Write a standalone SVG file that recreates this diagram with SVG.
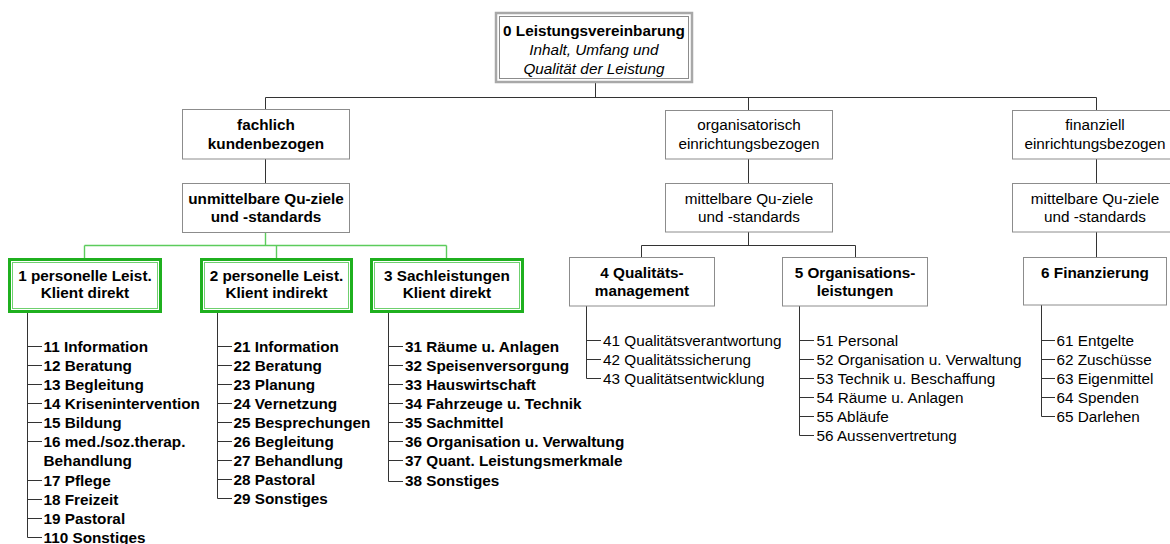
<svg xmlns="http://www.w3.org/2000/svg" width="1170" height="544" viewBox="0 0 1170 544">
<style>
text{font-family:"Liberation Sans",Arial,sans-serif;font-size:15.3px;fill:#000}
.b{font-weight:bold}
.i{font-style:italic}
.c{text-anchor:middle}
.box{fill:#fff;stroke:#8c8c8c;stroke-width:1}
.gout{fill:#fff;stroke:#1fb01f;stroke-width:3}
.gin{fill:none;stroke:#6fd06f;stroke-width:1}
.ln{fill:none;stroke:#333;stroke-width:1}
.gl{fill:none;stroke:#5ccc5c;stroke-width:1.4}
</style>
<g id="connectors">
<path class="ln" d="M595.5 83V97.5M265.5 97.5H1096.5M265.5 97.5V110M748.5 97.5V110M1096.5 97.5V110"/>
<path class="ln" d="M265.5 159V183M748.5 159V183M1096.5 159V183"/>
<path class="ln" d="M748.5 232V245.5M641.5 245.5H855.5M641.5 245.5V257M855.5 245.5V257M1096.5 232V257"/>
<path class="gl" d="M265.5 233V245.5M84.5 245.5H446.5M84.5 245.5V258M276.5 245.5V258M446.5 245.5V258"/>
<path class="ln" d="M27.5 312V537.5H42M27.5 346.5H42M27.5 365.5H42M27.5 384.5H42M27.5 403.5H42M27.5 422.5H42M27.5 441.5H42M27.5 480.5H42M27.5 499.5H42M27.5 518.5H42"/>
<path class="ln" d="M217.5 312V498.5H232M217.5 346.5H232M217.5 365.5H232M217.5 384.5H232M217.5 403.5H232M217.5 422.5H232M217.5 441.5H232M217.5 460.5H232M217.5 479.5H232"/>
<path class="ln" d="M388.5 312V481.5H403M388.5 346.5H403M388.5 365.5H403M388.5 384.5H403M388.5 403.5H403M388.5 422.5H403M388.5 441.5H403M388.5 460.5H403"/>
<path class="ln" d="M586.5 306V378.5H601M586.5 340.5H601M586.5 359.5H601"/>
<path class="ln" d="M799.5 306V435.5H814M799.5 340.5H814M799.5 359.5H814M799.5 378.5H814M799.5 397.5H814M799.5 416.5H814"/>
<path class="ln" d="M1041.5 305V416.5H1055M1041.5 340.5H1055M1041.5 359.5H1055M1041.5 378.5H1055M1041.5 397.5H1055"/>
</g>
<g id="n0">
<rect x="496" y="13" width="196" height="69" fill="#fff" stroke="#a8a8a8" stroke-width="2.5"/>
<rect x="499.5" y="16.5" width="189" height="62" fill="none" stroke="#8c8c8c" stroke-width="1"/>
<text class="b c" x="594" y="36">0 Leistungsvereinbarung</text>
<text class="i c" x="594" y="55">Inhalt, Umfang und</text>
<text class="i c" x="594" y="74">Qualität der Leistung</text>
</g>
<g id="fachlich">
<rect class="box" x="182.5" y="109.5" width="167" height="49.5"/>
<text class="b c" x="266" y="130">fachlich</text>
<text class="b c" x="266" y="148.5">kundenbezogen</text>
</g>
<g id="unmittelbar">
<rect class="box" x="182.5" y="183.5" width="167" height="49"/>
<text class="b c" x="266" y="204">unmittelbare Qu-ziele</text>
<text class="b c" x="266" y="222">und -standards</text>
</g>
<g id="organisatorisch">
<rect class="box" x="665.5" y="110.5" width="167" height="48.5"/>
<text class="c" x="749" y="130">organisatorisch</text>
<text class="c" x="749" y="148.5">einrichtungsbezogen</text>
</g>
<g id="mittelbar1">
<rect class="box" x="665.5" y="183.5" width="167" height="48.5"/>
<text class="c" x="749" y="204">mittelbare Qu-ziele</text>
<text class="c" x="749" y="222">und -standards</text>
</g>
<g id="finanziell">
<rect class="box" x="1012.5" y="110.5" width="167" height="48.5"/>
<text class="c" x="1095" y="130">finanziell</text>
<text class="c" x="1095" y="148.5">einrichtungsbezogen</text>
</g>
<g id="mittelbar2">
<rect class="box" x="1012.5" y="183.5" width="167" height="48.5"/>
<text class="c" x="1095" y="204">mittelbare Qu-ziele</text>
<text class="c" x="1095" y="222">und -standards</text>
</g>
<g id="n1">
<rect class="gout" x="9.5" y="259.5" width="151" height="52"/>
<rect class="gin" x="12.5" y="262.5" width="145" height="46"/>
<text class="b c" x="85" y="280.5">1 personelle Leist.</text>
<text class="b c" x="85" y="298">Klient direkt</text>
</g>
<g id="n2">
<rect class="gout" x="201.5" y="259.5" width="150" height="52"/>
<rect class="gin" x="204.5" y="262.5" width="144" height="46"/>
<text class="b c" x="276.5" y="280.5">2 personelle Leist.</text>
<text class="b c" x="276.5" y="298">Klient indirekt</text>
</g>
<g id="n3">
<rect class="gout" x="371.5" y="259.5" width="151" height="52"/>
<rect class="gin" x="374.5" y="262.5" width="145" height="46"/>
<text class="b c" x="447" y="280.5">3 Sachleistungen</text>
<text class="b c" x="447" y="298">Klient direkt</text>
</g>
<g id="n4">
<rect class="box" x="569.5" y="257.5" width="145" height="48.5"/>
<text class="b c" x="642" y="277.5">4 Qualitäts-</text>
<text class="b c" x="642" y="296">management</text>
</g>
<g id="n5">
<rect class="box" x="782.5" y="257.5" width="145" height="48.5"/>
<text class="b c" x="855" y="277.5">5 Organisations-</text>
<text class="b c" x="855" y="296">leistungen</text>
</g>
<g id="n6">
<rect class="box" x="1023.5" y="257.5" width="143" height="47.5"/>
<text class="b c" x="1095" y="277.5">6 Finanzierung</text>
</g>
<g id="list1">
<text class="b" x="43.5" y="351.5">11 Information</text>
<text class="b" x="43.5" y="370.5">12 Beratung</text>
<text class="b" x="43.5" y="389.5">13 Begleitung</text>
<text class="b" x="43.5" y="408.5">14 Krisenintervention</text>
<text class="b" x="43.5" y="427.5">15 Bildung</text>
<text class="b" x="43.5" y="446.5">16 med./soz.therap.</text>
<text class="b" x="43.5" y="465.5">Behandlung</text>
<text class="b" x="43.5" y="485.5">17 Pflege</text>
<text class="b" x="43.5" y="504.5">18 Freizeit</text>
<text class="b" x="43.5" y="523.5">19 Pastoral</text>
<text class="b" x="43.5" y="542.5">110 Sonstiges</text>
</g>
<g id="list2">
<text class="b" x="233.5" y="351.5">21 Information</text>
<text class="b" x="233.5" y="370.5">22 Beratung</text>
<text class="b" x="233.5" y="389.5">23 Planung</text>
<text class="b" x="233.5" y="408.5">24 Vernetzung</text>
<text class="b" x="233.5" y="427.5">25 Besprechungen</text>
<text class="b" x="233.5" y="446.5">26 Begleitung</text>
<text class="b" x="233.5" y="465.5">27 Behandlung</text>
<text class="b" x="233.5" y="484.5">28 Pastoral</text>
<text class="b" x="233.5" y="503.5">29 Sonstiges</text>
</g>
<g id="list3">
<text class="b" x="405" y="351.5">31 Räume u. Anlagen</text>
<text class="b" x="405" y="370.5">32 Speisenversorgung</text>
<text class="b" x="405" y="389.5">33 Hauswirtschaft</text>
<text class="b" x="405" y="408.5">34 Fahrzeuge u. Technik</text>
<text class="b" x="405" y="427.5">35 Sachmittel</text>
<text class="b" x="405" y="446.5">36 Organisation u. Verwaltung</text>
<text class="b" x="405" y="465.5">37 Quant. Leistungsmerkmale</text>
<text class="b" x="405" y="486">38 Sonstiges</text>
</g>
<g id="list4">
<text x="603" y="346">41 Qualitätsverantwortung</text>
<text x="603" y="364.5">42 Qualitätssicherung</text>
<text x="603" y="383.5">43 Qualitätsentwicklung</text>
</g>
<g id="list5">
<text x="816.5" y="346">51 Personal</text>
<text x="816.5" y="364.5">52 Organisation u. Verwaltung</text>
<text x="816.5" y="383.5">53 Technik u. Beschaffung</text>
<text x="816.5" y="402.5">54 Räume u. Anlagen</text>
<text x="816.5" y="421.5">55 Abläufe</text>
<text x="816.5" y="441">56 Aussenvertretung</text>
</g>
<g id="list6">
<text x="1056.5" y="345.5">61 Entgelte</text>
<text x="1056.5" y="364.5">62 Zuschüsse</text>
<text x="1056.5" y="383.5">63 Eigenmittel</text>
<text x="1056.5" y="402.5">64 Spenden</text>
<text x="1056.5" y="421.5">65 Darlehen</text>
</g>
</svg>
